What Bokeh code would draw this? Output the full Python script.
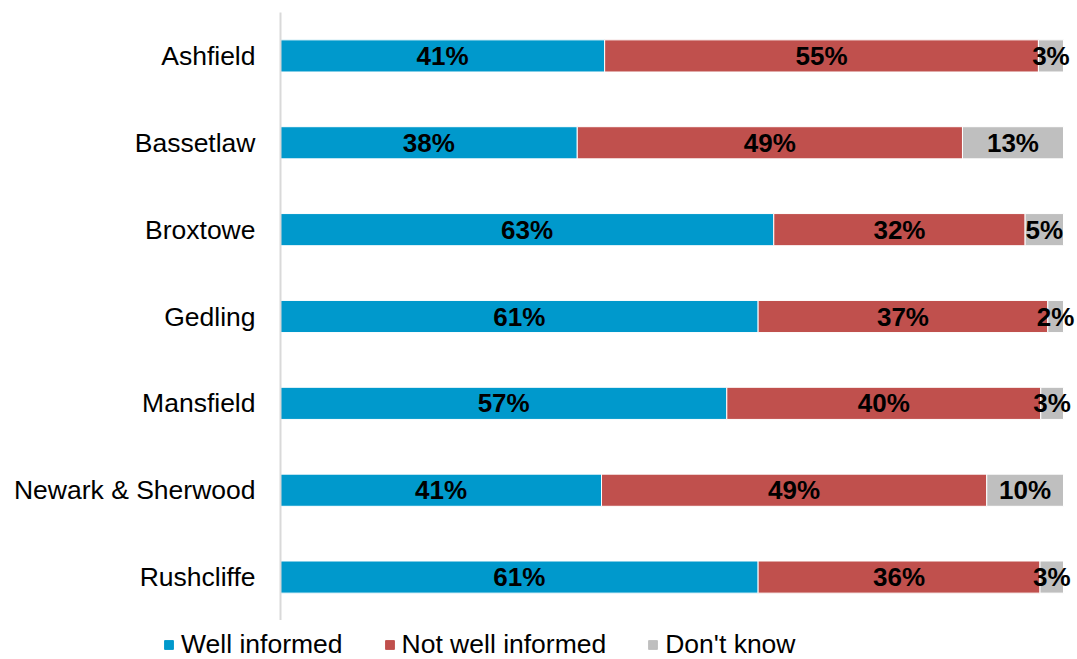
import numpy as np
from bokeh.plotting import figure
from bokeh.layouts import column
from bokeh.models import ColumnDataSource, Range1d, LabelSet, Legend, LegendItem
from bokeh.core.properties import value
from bokeh.embed import file_html
from bokeh.resources import INLINE

districts = ["Ashfield", "Bassetlaw", "Broxtowe", "Gedling", "Mansfield",
             "Newark & Sherwood", "Rushcliffe"]
well_informed = [41.4, 37.9, 63.0, 61.0, 57.0, 41.0, 61.0]
not_well_informed = [55.4, 49.2, 32.1, 37.0, 40.1, 49.2, 36.0]
dont_know = [3.2, 12.9, 4.9, 2.0, 2.9, 9.8, 3.0]
series_names = ["Well informed", "Not well informed", "Don't know"]
colors = ["#0099CC", "#C0504D", "#BFBFBF"]

FONT = "Liberation Sans"
keys = ["wi", "nwi", "dk"]
source = ColumnDataSource(dict(cat=districts, wi=well_informed,
                               nwi=not_well_informed, dk=dont_know))

p = figure(width=1077, height=620, y_range=list(reversed(districts)),
           x_range=Range1d(0, 101.79), output_backend="svg",
           toolbar_location=None, min_border_left=280, min_border_right=0,
           min_border_top=12, min_border_bottom=0)
p.frame_align = False

renderers = p.hbar_stack(keys, y="cat", height=0.37, color=colors,
                         line_color="white", line_width=1, source=source)

# data labels
vals = np.array([well_informed, not_well_informed, dont_know])
cum = np.cumsum(vals, axis=0)
starts = cum - vals
lx, ly, lt = [], [], []
for s in range(3):
    for i, d in enumerate(districts):
        lx.append(float(starts[s, i] + vals[s, i] / 2))
        ly.append(d)
        lt.append(f"{int(vals[s, i] + 0.5)}%")
lsrc = ColumnDataSource(dict(x=lx, y=ly, t=lt))
labels = LabelSet(x="x", y="y", text="t", source=lsrc, text_align="center",
                  text_baseline="middle", text_font=value(FONT),
                  text_font_style="bold", text_font_size="26px",
                  text_color="black")
p.add_layout(labels)

p.xaxis.visible = False
p.xgrid.grid_line_color = None
p.ygrid.grid_line_color = None
p.outline_line_color = None
p.yaxis.axis_line_color = "#D9D9D9"
p.yaxis.axis_line_width = 2
p.yaxis.major_tick_line_color = None
p.yaxis.minor_tick_line_color = None
p.yaxis.major_label_standoff = 19
p.yaxis.major_label_text_font = FONT
p.yaxis.major_label_text_font_size = "26.5px"
p.yaxis.major_label_text_color = "black"
p.y_range.range_padding = 0

# legend strip
lg = figure(width=1077, height=39, x_range=Range1d(0, 1), y_range=Range1d(0, 1),
            output_backend="svg", toolbar_location=None, min_border=0)
lg.frame_align = False
lg.xaxis.visible = False
lg.yaxis.visible = False
lg.xgrid.grid_line_color = None
lg.ygrid.grid_line_color = None
lg.outline_line_color = None
dummy = ColumnDataSource(dict(x=[-5.0], y=[-5.0]))
items = []
for n, c in zip(series_names, colors):
    r = lg.rect(x="x", y="y", width=0.1, height=0.1, color=c, source=dummy)
    items.append(LegendItem(label=n, renderers=[r]))
legend = Legend(items=items, location=(163, -1), orientation="horizontal",
                glyph_width=11, glyph_height=11, label_standoff=7,
                spacing=41, padding=0, margin=0, border_line_color=None,
                background_fill_alpha=0, label_text_font=FONT,
                label_text_font_size="26.5px", label_text_color="black")
lg.add_layout(legend, "center")

layout = column(p, lg, spacing=0)
open("out.html", "w").write(file_html(layout, INLINE))
